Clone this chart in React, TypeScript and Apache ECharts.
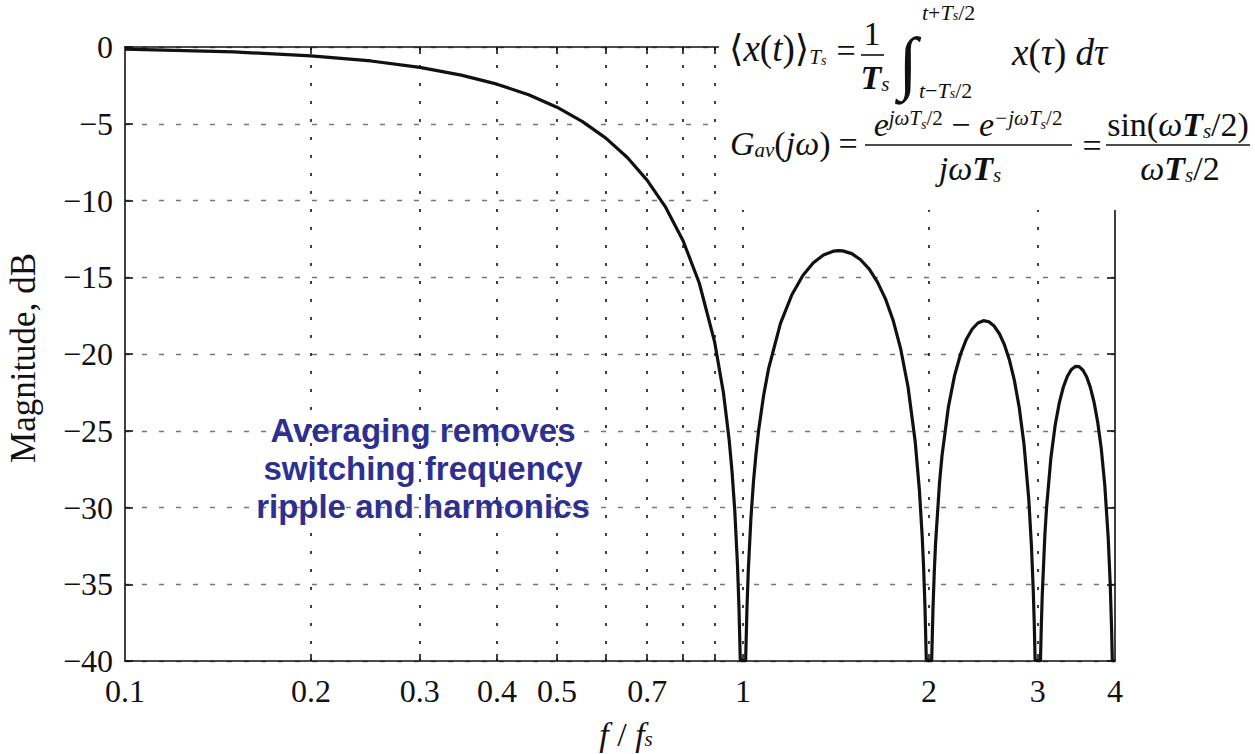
import React, { useEffect, useRef } from "react";
import * as echarts from "echarts";

// ---- data ----
const freqRatio = [
  0.1, 0.15, 0.2, 0.25, 0.3, 0.35, 0.4, 0.45, 0.5, 0.55, 0.6, 0.65, 0.7, 0.75, 0.8, 0.85, 0.9, 0.93, 0.95, 0.96,
  0.97, 0.98, 0.985, 0.99, 1.0, 1.01, 1.015, 1.02, 1.03, 1.04, 1.05, 1.06, 1.08, 1.1, 1.15, 1.2, 1.25, 1.3, 1.35,
  1.4, 1.43, 1.45, 1.5, 1.55, 1.6, 1.65, 1.7, 1.75, 1.8, 1.85, 1.9, 1.93, 1.95, 1.96, 1.97, 1.98, 2.0, 2.02, 2.03,
  2.04, 2.05, 2.08, 2.1, 2.15, 2.2, 2.25, 2.3, 2.35, 2.4, 2.45, 2.5, 2.55, 2.6, 2.65, 2.7, 2.75, 2.8, 2.85, 2.9,
  2.93, 2.95, 2.96, 2.97, 3.0, 3.03, 3.04, 3.05, 3.08, 3.1, 3.15, 3.2, 3.25, 3.3, 3.35, 3.4, 3.45, 3.5, 3.55, 3.6,
  3.65, 3.7, 3.75, 3.8, 3.85, 3.9, 3.93, 3.95, 3.96, 3.97, 4.0,
];
const magnitudeDb = [
  -0.14, -0.32, -0.58, -0.91, -1.33, -1.83, -2.42, -3.11, -3.92, -4.86, -5.94, -7.2, -8.69, -10.45, -12.62, -15.39,
  -19.23, -22.54, -25.61, -27.63, -30.21, -33.81, -36.35, -39.9, -40, -40, -36.61, -34.15, -30.73, -28.32, -26.48,
  -24.99, -22.7, -20.97, -18.01, -16.14, -14.89, -14.06, -13.55, -13.3, -13.26, -13.28, -13.46, -13.86, -14.46,
  -15.3, -16.39, -17.81, -19.67, -22.15, -25.72, -28.88, -31.86, -33.83, -36.36, -39.9, -40, -40, -36.62, -34.17,
  -32.29, -28.39, -26.59, -23.45, -21.41, -20.0, -19.02, -18.37, -17.98, -17.83, -17.9, -18.18, -18.68, -19.41,
  -20.41, -21.74, -23.5, -25.9, -29.39, -32.51, -35.45, -37.41, -39.93, -40, -40, -37.64, -35.75, -31.8, -29.97,
  -26.77, -24.66, -23.19, -22.15, -21.45, -21.01, -20.81, -20.82, -21.06, -21.5, -22.19, -23.15, -24.43, -26.15,
  -28.51, -31.97, -35.06, -37.99, -39.94, -40, -40,
];
const xTickValues = [0.2, 0.3, 0.4, 0.5, 0.6, 0.7, 0.8, 0.9, 1, 2, 3];
const xLabelValues = [0.1, 0.2, 0.3, 0.4, 0.5, 0.7, 1, 2, 3, 4];
const xRange = [0.1, 4];
const yRange = [-40, 0];
const yStep = 5;
const yAxisTitle = "Magnitude, dB";
const annotationLines = ["Averaging removes", "switching frequency", "ripple and harmonics"];

const SERIF = "'Liberation Serif', 'Times New Roman', 'DejaVu Serif', serif";
const SANS = "'Liberation Sans', Arial, sans-serif";
const INK = "#111";

const base = (size: number, lh: number, extra: any = {}) => ({
  fontFamily: SERIF,
  fontSize: size,
  lineHeight: lh,
  fill: INK,
  ...extra,
});

const RICH: any = {
  r: base(34, 34),
  i: base(34, 34, { fontStyle: "italic" }),
  bi: base(34, 34, { fontStyle: "italic", fontWeight: "bold" }),
  R: base(37, 38),
  I: base(37, 38, { fontStyle: "italic" }),
  sub: base(21, 21, { fontStyle: "italic", verticalAlign: "bottom" }),
  sub2: base(14, 14, { fontStyle: "italic", verticalAlign: "bottom" }),
  sup: base(21, 21, { fontStyle: "italic", verticalAlign: "top" }),
  supr: base(21, 21, { verticalAlign: "top" }),
  sup2: base(14, 14, { fontStyle: "italic", verticalAlign: "middle" }),
  li: base(22, 20, { fontStyle: "italic" }),
  lr: base(22, 20),
  ls: base(14, 12, { fontStyle: "italic", verticalAlign: "bottom" }),
};

function tx(x: number, y: number, text: string, align = "left", extra: any = {}) {
  return {
    type: "text",
    x,
    y,
    z: 110,
    style: {
      text,
      align,
      verticalAlign: "middle",
      textAlign: align,
      textVerticalAlign: "middle",
      fontFamily: SERIF,
      fontSize: 34,
      fill: INK,
      rich: RICH,
      ...extra,
    },
  };
}

function bar(x1: number, x2: number, y: number) {
  return { type: "line", z: 110, shape: { x1, y1: y, x2, y2: y }, style: { stroke: INK, lineWidth: 1.6 } };
}

const fmtMinus = (v: number) => (v < 0 ? "\u2212" + String(-v) : String(v));

export default function App() {
  const ref = useRef<HTMLDivElement>(null);
  useEffect(() => {
    if (!ref.current) return;
    const chart = echarts.init(ref.current, undefined, { renderer: "svg" });
    const lineData = freqRatio.map((f, i) => [f, magnitudeDb[i]]);
    const axisLine = { show: true, onZero: false, lineStyle: { color: INK, width: 1.6 } };
    const option: any = {
      animation: false,
      backgroundColor: "#ffffff",
      grid: { left: 125, right: 140, top: 47, bottom: 93, containLabel: false, outerBoundsMode: "none" },
      xAxis: [
        {
          type: "log",
          logBase: 10,
          min: xRange[0],
          max: xRange[1],
          position: "bottom",
          axisLine,
          axisTick: { show: true, inside: true, length: 7, customValues: xTickValues, lineStyle: { color: INK, width: 1.6 } },
          minorTick: { show: false },
          axisLabel: {
            show: true,
            customValues: xLabelValues,
            showMinLabel: true,
            showMaxLabel: true,
            hideOverlap: false,
            margin: 14,
            color: INK,
            fontFamily: SERIF,
            fontSize: 32,
            formatter: (v: number) => String(+Number(v).toPrecision(3)),
          },
          splitLine: { show: true, lineStyle: { color: "#111", width: 1.6, type: [3, 15] } },
          name: "{i|f}{r| / }{i|f}{s|s}",
          nameLocation: "middle",
          nameGap: 58,
          nameTextStyle: {
            padding: [0, 0, 0, 12],
            rich: {
              i: { fontFamily: SERIF, fontSize: 34, fontStyle: "italic", color: INK, lineHeight: 30 },
              r: { fontFamily: SERIF, fontSize: 34, color: INK, lineHeight: 30 },
              s: { fontFamily: SERIF, fontSize: 21, fontStyle: "italic", color: INK, verticalAlign: "bottom", lineHeight: 18 },
            },
          },
        },
        {
          type: "log",
          logBase: 10,
          min: xRange[0],
          max: xRange[1],
          position: "top",
          axisLine,
          axisTick: { show: true, inside: true, length: 7, customValues: xTickValues, lineStyle: { color: INK, width: 1.6 } },
          axisLabel: { show: false },
          splitLine: { show: false },
        },
      ],
      yAxis: [
        {
          type: "value",
          min: yRange[0],
          max: yRange[1],
          interval: yStep,
          position: "left",
          axisLine,
          axisTick: { show: true, inside: true, length: 8, lineStyle: { color: INK, width: 1.6 } },
          axisLabel: { show: true, margin: 12, color: INK, fontFamily: SERIF, fontSize: 32, formatter: fmtMinus },
          splitLine: { show: true, lineStyle: { color: "#777", width: 1.4, type: [5, 12] } },
          name: yAxisTitle,
          nameLocation: "middle",
          nameGap: 84,
          nameTextStyle: { fontFamily: SERIF, fontSize: 35, color: INK, padding: [0, 8, 0, 0] },
        },
        {
          type: "value",
          min: yRange[0],
          max: yRange[1],
          interval: yStep,
          position: "right",
          axisLine,
          axisTick: { show: true, inside: true, length: 8, lineStyle: { color: INK, width: 1.6 } },
          axisLabel: { show: false },
          splitLine: { show: false },
        },
      ],
      series: [
        {
          type: "line",
          xAxisIndex: 0,
          yAxisIndex: 0,
          data: lineData,
          showSymbol: false,
          symbol: "none",
          smooth: false,
          z: 5,
          lineStyle: { color: INK, width: 3.2 },
        },
      ],
      graphic: [
        { type: "rect", z: 100, shape: { x: 719, y: 0, width: 540, height: 210 }, style: { fill: "#ffffff" } },
        // line 1: averaging definition
        tx(729, 48, "{R|\u27E8}{I|x}{R|(}{I|t}{R|)\u27E9}{sub|T}{sub2|s}"),
        tx(846, 50, "{r|=}", "center"),
        tx(872, 33, "{r|1}", "center"),
        bar(861, 884, 55),
        tx(875, 77, "{bi|T}{sub|s}", "center"),
        tx(908, 62, "\u222B", "center", { fontSize: 70, fontStyle: "italic" }),
        tx(922, 12, "{li|t}{lr|+}{li|T}{ls|s}{lr|/2}"),
        tx(919, 90, "{li|t}{lr|\u2212}{li|T}{ls|s}{lr|/2}"),
        tx(1012, 52, "{I|x}{R|(}{I|\u03C4}{R|)}{I| d\u03C4}"),
        // line 2: transfer function
        tx(730, 143, "{i|G}{sub|av}{r|(}{i|j\u03C9}{r|)}"),
        tx(848, 143, "{r|=}", "center"),
        tx(968, 124, "{i|e}{sup|j\u03C9T}{sup2|s}{supr|/2}{r| \u2212 }{i|e}{sup|\u2212j\u03C9T}{sup2|s}{supr|/2}", "center"),
        bar(865, 1072, 145),
        tx(970, 168, "{i|j\u03C9}{bi|T}{sub|s}", "center"),
        tx(1092, 145, "{r|=}", "center"),
        tx(1178, 124, "{r|sin(}{i|\u03C9}{bi|T}{sub|s}{r|/2)}", "center"),
        bar(1106, 1250, 145),
        tx(1180, 168, "{i|\u03C9}{bi|T}{sub|s}{r|/2}", "center"),
        // annotation
        {
          type: "text",
          x: 423,
          y: 468,
          z: 110,
          style: {
            text: annotationLines.join("\n"),
            align: "center",
            verticalAlign: "middle",
            textAlign: "center",
            textVerticalAlign: "middle",
            fontFamily: SANS,
            fontWeight: "bold",
            fontSize: 33,
            lineHeight: 38,
            fill: "#2E3090",
          },
        },
      ],
    };
    chart.setOption(option);
    return () => chart.dispose();
  }, []);
  return (
    <div
      ref={ref}
      style={{ position: "fixed", left: 0, top: 0, width: 1255, height: 754, background: "#fff" }}
    />
  );
}
